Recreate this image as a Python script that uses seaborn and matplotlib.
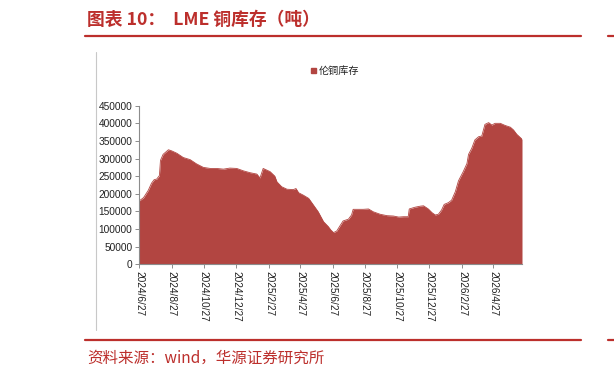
import matplotlib
matplotlib.use("Agg")
import matplotlib.pyplot as plt
import seaborn as sns
import pandas as pd
from matplotlib.lines import Line2D
from matplotlib.patches import Rectangle

dates = [
    "2024-06-27", "2024-07-05", "2024-07-14", "2024-07-20", "2024-07-25", "2024-07-30",
    "2024-08-03", "2024-08-04", "2024-08-06", "2024-08-11", "2024-08-21", "2024-08-27",
    "2024-09-06", "2024-09-18", "2024-10-01", "2024-10-13", "2024-10-26", "2024-11-08",
    "2024-11-20", "2024-12-03", "2024-12-15", "2024-12-28", "2025-01-10", "2025-01-22",
    "2025-02-04", "2025-02-10", "2025-02-16", "2025-03-01", "2025-03-10", "2025-03-14",
    "2025-03-23", "2025-04-02", "2025-04-14", "2025-04-19", "2025-04-24", "2025-05-03",
    "2025-05-13", "2025-05-22", "2025-05-31", "2025-06-10", "2025-06-19", "2025-06-24",
    "2025-06-29", "2025-07-05", "2025-07-11", "2025-07-17", "2025-07-27", "2025-08-02",
    "2025-08-05", "2025-08-15", "2025-08-24", "2025-09-03", "2025-09-12", "2025-09-25",
    "2025-10-08", "2025-10-20", "2025-10-30", "2025-11-08", "2025-11-17", "2025-11-19",
    "2025-11-30", "2025-12-10", "2025-12-16", "2025-12-25", "2026-01-01", "2026-01-07",
    "2026-01-13", "2026-01-19", "2026-01-24", "2026-02-01", "2026-02-07", "2026-02-14",
    "2026-02-20", "2026-03-01", "2026-03-08", "2026-03-11", "2026-03-17", "2026-03-23",
    "2026-03-30", "2026-04-05", "2026-04-11", "2026-04-18", "2026-04-24", "2026-04-30",
    "2026-05-10", "2026-05-19", "2026-05-29", "2026-06-04", "2026-06-10", "2026-06-20",
]
stock = [
    180000, 189000, 210000, 230000, 240000, 242000,
    250000, 252000, 295000, 312000, 325000, 322000,
    315000, 303000, 297000, 285000, 275000, 272000,
    272000, 270000, 273000, 272000, 265000, 260000,
    256000, 245000, 272000, 263000, 250000, 234000,
    220000, 213000, 212000, 215000, 203000, 196000,
    187000, 168000, 149000, 121000, 107000, 97000,
    90000, 94500, 109000, 123000, 128000, 140000,
    156000, 156000, 156000, 157000, 149000, 142000,
    138000, 137000, 134000, 135000, 135000, 157000,
    162000, 165000, 166000, 157000, 146500, 140000,
    142000, 154000, 170000, 175000, 182000, 206000,
    237000, 263000, 286000, 312000, 329000, 353000,
    362000, 364000, 397000, 402000, 395000, 400000,
    400000, 394000, 389000, 381000, 369000, 355000,
]
tick_dates = ["2024-06-27", "2024-08-27", "2024-10-27", "2024-12-27", "2025-02-27",
              "2025-04-27", "2025-06-27", "2025-08-27", "2025-10-27", "2025-12-27",
              "2026-02-27", "2026-04-27"]
tick_labels = ["2024/6/27", "2024/8/27", "2024/10/27", "2024/12/27", "2025/2/27",
               "2025/4/27", "2025/6/27", "2025/8/27", "2025/10/27", "2025/12/27",
               "2026/2/27", "2026/4/27"]
y_ticks = list(range(0, 450001, 50000))
series_name = "伦铜库存"
title = "图表 10：  LME 铜库存（吨）"
source = "资料来源：wind，华源证券研究所"

sns.set_theme(style="white")
plt.rcParams["font.family"] = ["Liberation Sans", "Noto Sans CJK SC", "DejaVu Sans"]

df = pd.DataFrame({"date": pd.to_datetime(dates), "stock": stock})
FILL = "#B24541"
RED = "#BC2F2C"

fig = plt.figure(figsize=(6.14, 3.78), dpi=100)
ax = fig.add_axes([139.3 / 614, 1 - 264.3 / 378, (522 - 139.3) / 614, (264.3 - 105.7) / 378])

sns.lineplot(data=df, x="date", y="stock", ax=ax, color=FILL, linewidth=0.6)
ax.fill_between(df["date"], 0, df["stock"], color=FILL, linewidth=0)

ax.set_xlim(df["date"].iloc[0], df["date"].iloc[-1])
ax.set_ylim(0, 450000)
ax.set_yticks(y_ticks)
ax.set_yticklabels([str(v) for v in y_ticks], fontsize=7.3, color="#222222")
ax.set_xticks(pd.to_datetime(tick_dates))
ax.set_xticklabels(tick_labels, rotation=-90, fontsize=7.3, color="#222222",
                   ha="center", va="top")
ax.set_xlabel("")
ax.set_ylabel("")
for s in ["top", "right"]:
    ax.spines[s].set_visible(False)
for s in ["left", "bottom"]:
    ax.spines[s].set_color("#8c8c8c")
    ax.spines[s].set_linewidth(0.8)
ax.tick_params(axis="both", which="both", direction="out", length=3, width=0.7,
               color="#8c8c8c", pad=2, bottom=True, left=True)
ax.grid(False)

# legend
fig.patches.append(Rectangle((311 / 614, 1 - 73 / 378), 5 / 614, 5 / 378,
                             transform=fig.transFigure, color=FILL))
fig.text(319 / 614, 1 - 70.5 / 378, series_name, fontsize=7.3, color="#222222",
         va="center", ha="left", family=["Noto Sans CJK SC", "DejaVu Sans"])

# frame line at left
fig.add_artist(Line2D([96.5 / 614, 96.5 / 614], [1 - 52 / 378, 1 - 330 / 378],
                      transform=fig.transFigure, color="#c8c8c8", linewidth=0.8))

# title & rules
fig.text(87 / 614, 1 - 20 / 378, title, fontsize=12.8, fontweight="bold", color=RED,
         va="center", ha="left", family=["Noto Sans CJK SC", "DejaVu Sans"])
for yy in (35.5, 339.5):
    fig.add_artist(Line2D([85 / 614, 581 / 614], [1 - yy / 378, 1 - yy / 378],
                          transform=fig.transFigure, color=RED, linewidth=1.6))
    fig.add_artist(Line2D([608 / 614, 1.0], [1 - yy / 378, 1 - yy / 378],
                          transform=fig.transFigure, color=RED, linewidth=1.6))
fig.text(87 / 614, 1 - 358 / 378, source, fontsize=11.2, color=RED,
         va="center", ha="left", family=["Noto Sans CJK SC", "DejaVu Sans"])

fig.savefig("out.png", dpi=100)
